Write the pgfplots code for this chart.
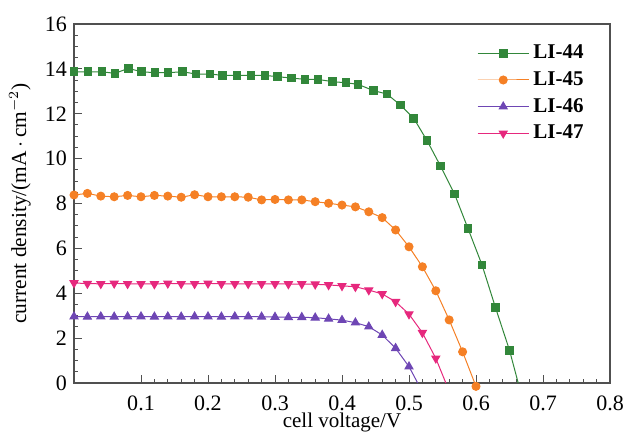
\documentclass[border=0pt]{standalone}
\usepackage{pgfplots}
\pgfplotsset{compat=1.18}
\usepackage{fontspec}
\setmainfont{Liberation Serif}
\definecolor{cgreen}{RGB}{50,135,58}
\definecolor{corange}{RGB}{245,128,37}
\definecolor{cpurple}{RGB}{110,70,180}
\definecolor{cpink}{RGB}{230,40,125}
\definecolor{caxis}{RGB}{80,80,80}
\begin{document}
\begin{tikzpicture}
\begin{axis}[
  name=ax,
  scale only axis,
  width=268pt, height=179.5pt,
  xmin=0, xmax=0.8, ymin=0, ymax=16,
  xtick={0.1,0.2,0.3,0.4,0.5,0.6,0.7,0.8},
  ytick={0,2,4,6,8,10,12,14,16},
  minor x tick num=4, minor y tick num=3,
  xtick pos=left, ytick pos=left,
  tick align=inside,
  major tick length=4pt, minor tick length=2pt,
  axis line style={caxis, line width=0.7pt},
  every tick/.style={caxis, line width=0.5pt},
  /pgf/number format/assume math mode=true,
  tick label style={font=\fontsize{11}{12}\selectfont},
  xticklabel style={inner ysep=0.4pt, yshift=-5.6pt, /pgf/number format/.cd, fixed, fixed zerofill, precision=1},
  xlabel={cell voltage/V},
  ylabel={current density/(mA\,$\cdot$\,cm$^{-2}$)},
  every axis x label/.style={at={(rel axis cs:0.5,0)}, anchor=north, inner sep=0pt, yshift=-14.7pt, font=\fontsize{10.5}{12}\selectfont},
  every axis y label/.style={at={(rel axis cs:0,0.5)}, anchor=center, rotate=90, yshift=27pt, font=\fontsize{10.7}{12}\selectfont},
  clip=false,
  legend style={at={(0.97,0.965)}, anchor=north east, draw=none, fill=none,
    font=\bfseries\fontsize{10.5}{12}\selectfont, row sep=0.9pt},
  legend cell align=left,
  legend image code/.code={\draw[mark repeat=2,mark phase=2] plot coordinates {(0cm,0cm)(0.45cm,0cm)(0.9cm,0cm)};},
  every axis plot/.append style={line width=0.5pt},
]
\addplot[cgreen, mark=square*, mark size=1.9pt] coordinates {
(0.000,13.87)(0.021,13.87)(0.042,13.87)(0.061,13.80)(0.081,14.02)(0.101,13.87)(0.121,13.83)(0.140,13.83)(0.162,13.87)(0.182,13.77)(0.203,13.77)(0.222,13.71)(0.243,13.71)(0.264,13.71)(0.285,13.71)(0.304,13.65)(0.325,13.59)(0.345,13.53)(0.364,13.53)(0.386,13.43)(0.406,13.38)(0.424,13.31)(0.447,13.03)(0.467,12.88)(0.487,12.39)(0.507,11.80)(0.527,10.80)(0.547,9.67)(0.568,8.42)(0.588,6.89)(0.609,5.26)(0.629,3.37)(0.650,1.46)};
\addlegendentry{LI-44}
\addplot[corange, mark=*, mark size=2pt] coordinates {
(0.00,8.38)(0.02,8.45)(0.04,8.33)(0.06,8.30)(0.08,8.36)(0.10,8.30)(0.12,8.36)(0.14,8.33)(0.16,8.28)(0.18,8.39)(0.20,8.30)(0.22,8.30)(0.24,8.30)(0.26,8.28)(0.28,8.16)(0.30,8.18)(0.32,8.16)(0.34,8.16)(0.36,8.08)(0.38,8.01)(0.40,7.93)(0.42,7.85)(0.44,7.63)(0.46,7.37)(0.48,6.82)(0.50,6.07)(0.52,5.18)(0.54,4.11)(0.56,2.81)(0.58,1.39)(0.60,-0.15)};
\addlegendentry{LI-45}
\addplot[cpurple, mark=triangle*, mark size=2.3pt] coordinates {
(0.00,2.96)(0.02,2.95)(0.04,2.96)(0.06,2.95)(0.08,2.96)(0.10,2.96)(0.12,2.95)(0.14,2.96)(0.16,2.95)(0.18,2.96)(0.20,2.96)(0.22,2.95)(0.24,2.96)(0.26,2.96)(0.28,2.95)(0.30,2.94)(0.32,2.93)(0.34,2.93)(0.36,2.91)(0.38,2.86)(0.40,2.80)(0.42,2.69)(0.44,2.51)(0.46,2.14)(0.48,1.55)(0.50,0.73)};
\addlegendentry{LI-46}
\addplot[cpink, mark=triangle*, mark options={rotate=180}, mark size=2.3pt] coordinates {
(0.00,4.46)(0.02,4.43)(0.04,4.42)(0.06,4.44)(0.08,4.42)(0.10,4.42)(0.12,4.41)(0.14,4.44)(0.16,4.42)(0.18,4.42)(0.20,4.44)(0.22,4.42)(0.24,4.42)(0.26,4.42)(0.28,4.42)(0.30,4.42)(0.32,4.41)(0.34,4.41)(0.36,4.40)(0.38,4.37)(0.40,4.33)(0.42,4.29)(0.44,4.14)(0.46,3.97)(0.48,3.62)(0.50,3.07)(0.52,2.24)(0.54,1.10)};
\addlegendentry{LI-47}
\addplot[cgreen, forget plot] coordinates {(0.650,1.46)(0.663,0)};
\addplot[cpurple, forget plot] coordinates {(0.50,0.73)(0.513,0)};
\addplot[cpink, forget plot] coordinates {(0.54,1.10)(0.555,0)};
\end{axis}
\pgfresetboundingbox
\path[use as bounding box] ([xshift=-37pt,yshift=-24.5pt]ax.south west) rectangle ([xshift=6.5pt,yshift=12pt]ax.north east);
\end{tikzpicture}
\end{document}
